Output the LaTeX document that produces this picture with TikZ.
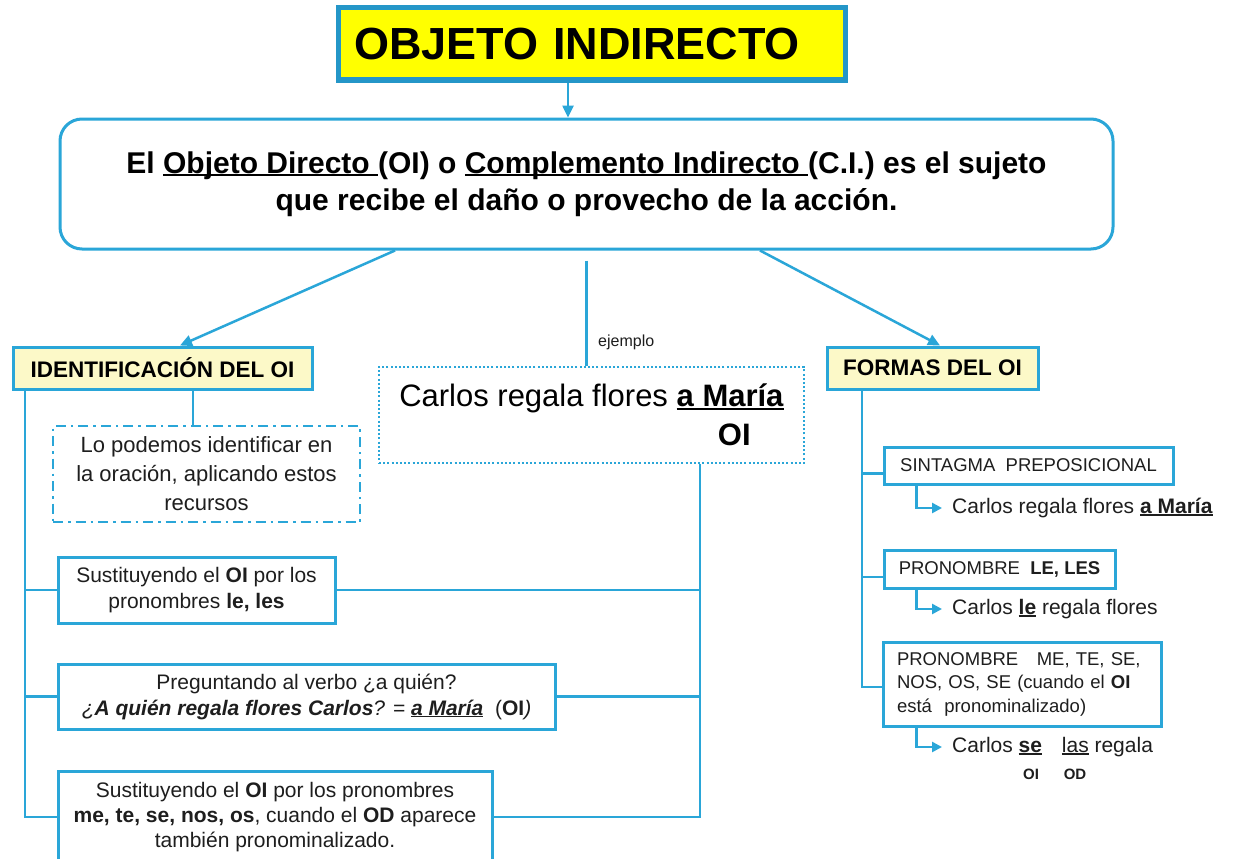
\documentclass[tikz,border=0pt]{standalone}
\usepackage{fontspec}
\setmainfont{Liberation Sans}
\usetikzlibrary{arrows.meta}
\definecolor{bl}{RGB}{42,166,216}
\definecolor{tbl}{RGB}{36,150,200}
\definecolor{ttl}{RGB}{255,255,0}
\definecolor{hdr}{RGB}{252,249,200}
\definecolor{txt}{RGB}{30,30,30}
\newcommand\myul[1]{\setbox0=\hbox{#1}\rlap{\rule[-0.11em]{\wd0}{0.07em}}\box0\relax}
\tikzset{
  conn/.style={draw=bl, line width=2.5pt},
  arr/.style={conn, -{Triangle[length=12pt,width=11pt]}},
  box/.style={draw=bl, line width=3pt, fill=white, inner sep=0pt, align=center, text=txt},
  hdrbox/.style={box, fill=hdr, text=black, font=\fontsize{22.5}{27}\selectfont\bfseries},
  lbox/.style={box, font=\fontsize{21}{26}\selectfont},
  rbox/.style={box, font=\fontsize{18.5}{23.5}\selectfont},
  extext/.style={anchor=west, inner sep=2pt, text=txt, font=\fontsize{21}{25}\selectfont},
  elbow/.style={conn, -{Triangle[length=10pt,width=10pt]}},
}
\begin{document}
\begin{tikzpicture}[x=1pt,y=-1pt]
\useasboundingbox (0,0) rectangle (1234,859);
\fill[white] (0,0) rectangle (1234,859);
\clip (0,0) rectangle (1234,859);

% title
\node[draw=tbl, line width=5pt, fill=ttl, minimum width=507pt, minimum height=72pt,
      text width=475pt, inner xsep=16pt, align=left,
      font=\fontsize{45}{50}\selectfont\bfseries] (title) at (591.5,44) {OBJETO INDIRECTO};

% main definition box
\node[box, text=black, rounded corners=22pt, minimum width=1053pt, minimum height=130pt,
      font=\fontsize{30}{37.5}\selectfont\bfseries] (main) at (586.5,184)
  {El \myul{Objeto Directo\ }(OI) o \myul{Complemento Indirecto\ }(C.I.) es el sujeto\\
   que recibe el daño o provecho de la acción.};

\draw[arr] ([xshift=-23.5pt]title.south) -- ([xshift=-18.5pt]main.north);

% headers
\node[hdrbox, minimum width=299pt, minimum height=42pt] (ident) at (162.5,368) {IDENTIFICACIÓN DEL OI};
\node[hdrbox, minimum width=211pt, minimum height=42pt] (formas) at (932.5,368) {FORMAS DEL OI};

\draw[arr] ([xshift=-191.5pt]main.south) -- ([xshift=17.5pt]ident.north);
\draw[arr] ([xshift=173.5pt]main.south) -- ([xshift=7.5pt]formas.north);

% example box
\node[draw=bl, line width=2.5pt, dash pattern=on 2pt off 2.2pt, fill=white,
      minimum width=425pt, minimum height=96pt, inner sep=0pt, align=right,
      font=\fontsize{31}{39}\selectfont] (ej) at (591.5,415)
  {Carlos regala flores \myul{\textbf{a María}}\\ \textbf{OI}\hspace{33pt}\mbox{}};
\coordinate (mid) at ([yshift=-10pt]main.south);
\draw[conn] (mid) -- (mid |- ej.north);
\node[anchor=west, inner sep=0pt, text=txt, font=\fontsize{16}{18}\selectfont] (ejl) at (598,342) {ejemplo};

% left column
\node[draw=bl, line width=2.5pt, dash pattern=on 10pt off 5pt on 2.5pt off 5pt,
      minimum width=307pt, minimum height=96pt, inner sep=0pt, align=center, text=txt,
      font=\fontsize{22}{29}\selectfont] (lo) at (206.5,474)
  {Lo podemos identificar en\\la oración, aplicando estos\\recursos};
\coordinate (idl) at ([xshift=30.5pt]ident.south);
\draw[conn] (idl) -- (idl |- lo.north);

\node[lbox, minimum width=277pt, minimum height=66pt] (b1) at (196.5,590)
  {Sustituyendo el \textbf{OI} por los\\pronombres \textbf{le, les}};
\node[lbox, minimum width=497pt, minimum height=65pt] (b2) at (306.5,696.5)
  {Preguntando al verbo ¿a quién?\\
   \textit{¿\textbf{A quién regala flores Carlos}? = \myul{\textbf{a María}}}\ \ (\textbf{OI}\textit{)}};
\node[lbox, minimum width=434pt, minimum height=92pt, font=\fontsize{21}{25}\selectfont] (b3) at (275,817)
  {Sustituyendo el \textbf{OI} por los pronombres\\
   \textbf{me, te, se, nos, os}, cuando el \textbf{OD} aparece\\
   también pronominalizado.};

\coordinate (lsp) at ([xshift=-137.5pt]ident.south);
\draw[conn] (lsp) |- (b3.west);
\draw[conn] (b1.west) -- (b1.west -| lsp);
\draw[conn] (b2.west) -- (b2.west -| lsp);

\coordinate (rsp) at ([xshift=108.5pt]ej.south);
\draw[conn] (rsp) |- (b3.east);
\draw[conn] (b1.east) -- (b1.east -| rsp);
\draw[conn] (b2.east) -- (b2.east -| rsp);

% right column
\node[rbox, minimum width=289pt, minimum height=37pt] (f1) at (1028.5,465.5) {SINTAGMA\ \ PREPOSICIONAL};
\node[rbox, minimum width=231pt, minimum height=38pt] (f2) at (999.5,569) {PRONOMBRE\ \ \textbf{LE, LES}};
\node[rbox, minimum width=278pt, minimum height=84pt, text width=250pt, inner xsep=14pt, align=left] (f3) at (1022,684)
  {PRONOMBRE\ \ \ ME, TE, SE,\\NOS, OS, SE (cuando el \textbf{OI}\\está\ \ pronominalizado)};

\coordinate (fsp) at ([xshift=-70.5pt]formas.south);
\draw[conn] (fsp) |- ([yshift=-3pt]f3.west);
\coordinate (f1b) at ([yshift=-8pt]f1.west);
\coordinate (f2b) at ([yshift=-8pt]f2.west);
\draw[conn] (f1b) -- (f1b -| fsp);
\draw[conn] (f2b) -- (f2b -| fsp);

\node[extext] (ex1) at (950,508) {Carlos regala flores \myul{\textbf{a María}}};
\node[extext] (ex2) at (950,609) {Carlos \myul{\textbf{le}} regala flores};
\node[extext] (ex3) at (950,747) {Carlos \myul{\textbf{se}}\hspace{14pt} \myul{las} regala};
\node[inner sep=0pt, text=txt, font=\fontsize{15}{17}\selectfont\bfseries] (oi) at (1031,774) {OI};
\node[inner sep=0pt, text=txt, font=\fontsize{15}{17}\selectfont\bfseries] (od) at (1075,774) {OD};

\draw[elbow] ([xshift=34pt]f1.south west) |- ([xshift=-8pt]ex1.west);
\draw[elbow] ([xshift=34pt]f2.south west) |- ([xshift=-8pt]ex2.west);
\draw[elbow] ([xshift=35pt]f3.south west) |- ([xshift=-8pt]ex3.west);
\end{tikzpicture}
\end{document}
